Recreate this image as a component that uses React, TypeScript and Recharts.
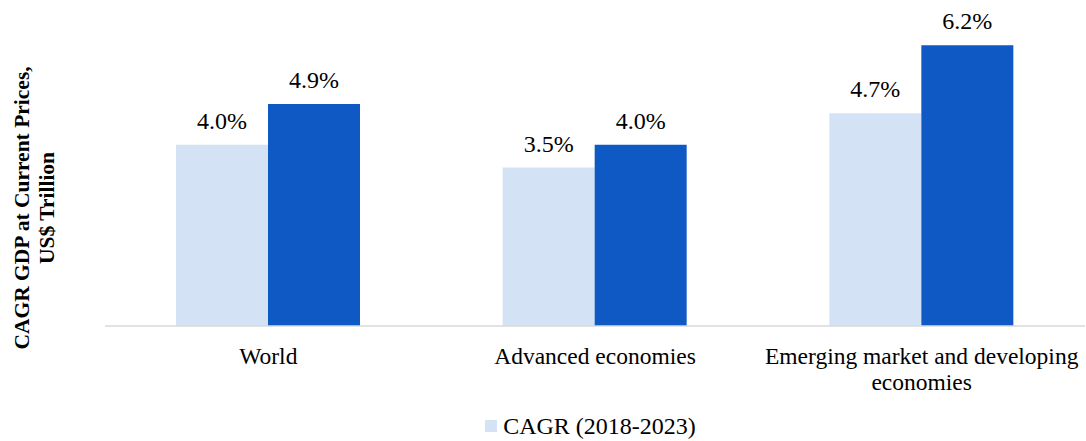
import React from "react";
import { BarChart, Bar, XAxis, YAxis, Legend, LabelList } from "recharts";

const categories = ["World", "Advanced economies", "Emerging market and developing economies"];
const categoryLines = [["World"], ["Advanced economies"], ["Emerging market and developing", "economies"]];
const seriesA = [4.0, 3.5, 4.7];
const seriesB = [4.9, 4.0, 6.2];
const seriesNames = ["CAGR (2018-2023)", "CAGR (2023-2028F)"];
const yLabelLines = ["CAGR GDP at Current Prices,", "US$ Trillion"];

const data = categories.map((c, i) => ({ name: c, a: seriesA[i], b: seriesB[i], idx: i }));

const FONT = "'Liberation Serif', 'Times New Roman', serif";

const CatTick = (props: any) => {
  const { x, y, index } = props;
  const lines = categoryLines[index] || [String(props.payload.value)];
  return (
    <g>
      {lines.map((l, i) => (
        <text key={i} x={x} y={y + 30 + i * 26} textAnchor="middle" fontFamily={FONT} fontSize={23.5} fill="#000">
          {l}
        </text>
      ))}
    </g>
  );
};

const YLabel = (props: any) => {
  const cx = 22;
  const cy = 208;
  return (
    <g>
      {yLabelLines.map((l, i) => (
        <text
          key={i}
          x={cx + i * 25}
          y={cy}
          transform={`rotate(-90, ${cx + i * 25}, ${cy})`}
          textAnchor="middle"
          dominantBaseline="central"
          fontFamily={FONT}
          fontWeight="bold"
          fontSize={21.5}
          fill="#000"
        >
          {l}
        </text>
      ))}
    </g>
  );
};

const LegendContent = () => (
  <div style={{ display: "flex", justifyContent: "center", alignItems: "center", height: 30, marginLeft: 96 }}>
    <span style={{ display: "inline-block", width: 12, height: 12, background: "#D3E3F5", marginRight: 6 }} />
    <span style={{ fontFamily: FONT, fontSize: 24, color: "#000" }}>{seriesNames[0]}</span>
  </div>
);

export default function App() {
  return (
    <div style={{ position: "absolute", left: 0, top: 0, background: "#fff" }}>
      <BarChart
        width={1086}
        height={441}
        data={data}
        margin={{ top: 9, right: 1, left: 0, bottom: 0 }}
        barCategoryGap={71}
        barGap={0}
      >
        <XAxis
          dataKey="name"
          axisLine={{ stroke: "#D9D9D9", strokeWidth: 1.5 }}
          tickLine={false}
          interval={0}
          height={85}
          tick={<CatTick />}
        />
        <YAxis
          domain={[0, 7]}
          width={105}
          tick={false}
          axisLine={false}
          tickLine={false}
          label={<YLabel />}
        />
        <Legend verticalAlign="bottom" height={30} content={<LegendContent />} />
        <Bar dataKey="a" name={seriesNames[0]} fill="#D3E3F5" isAnimationActive={false}>
          <LabelList
            dataKey="a"
            position="top"
            offset={16}
            formatter={(v: any) => `${Number(v).toFixed(1)}%`}
            style={{ fontFamily: FONT, fontSize: 24, fill: "#000" }}
          />
        </Bar>
        <Bar dataKey="b" name={seriesNames[1]} fill="#0F59C5" isAnimationActive={false}>
          <LabelList
            dataKey="b"
            position="top"
            offset={16}
            formatter={(v: any) => `${Number(v).toFixed(1)}%`}
            style={{ fontFamily: FONT, fontSize: 24, fill: "#000" }}
          />
        </Bar>
      </BarChart>
    </div>
  );
}
